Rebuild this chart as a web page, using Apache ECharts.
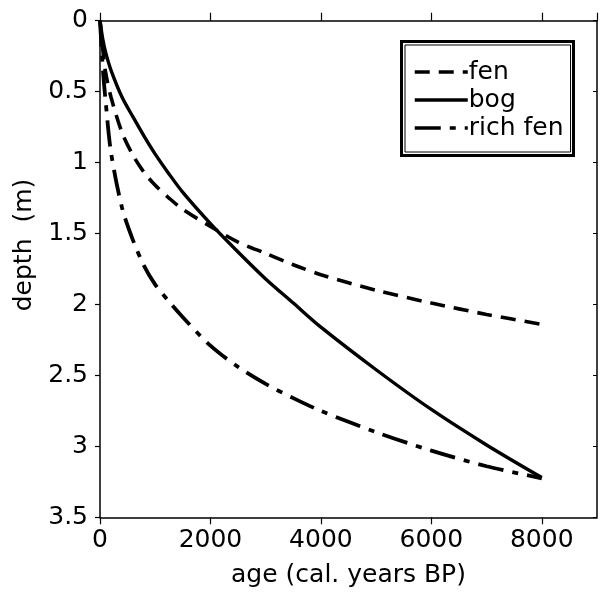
<!DOCTYPE html>
<html>
<head>
<meta charset="utf-8">
<script src="https://cdn.jsdelivr.net/npm/echarts@6/dist/echarts.min.js"></script>
<style>html,body{margin:0;padding:0;background:#fff;}#c{width:600px;height:593px;}</style>
</head>
<body>
<div id="c"></div>
<script>
// ages (cal. years BP)
const ages = [0, 50, 100, 200, 400, 600, 800, 1000, 1250, 1500, 2000, 2500, 3000, 3500, 4000, 5000, 6000, 7000, 8000];
// depth (m) per series
const fen     = [0, 0.20, 0.36, 0.54, 0.79, 0.95, 1.07, 1.16, 1.25, 1.33, 1.45, 1.56, 1.64, 1.72, 1.79, 1.90, 1.99, 2.07, 2.14];
const bog     = [0, 0.13, 0.22, 0.35, 0.54, 0.68, 0.815, 0.94, 1.08, 1.21, 1.43, 1.63, 1.82, 1.99, 2.16, 2.46, 2.74, 2.99, 3.22];
const richFen = [0, 0.33, 0.56, 0.93, 1.32, 1.55, 1.73, 1.86, 1.98, 2.09, 2.29, 2.44, 2.56, 2.66, 2.75, 2.90, 3.03, 3.14, 3.225];
const seriesNames = ['fen', 'bog', 'rich fen'];
const xTicks = [0, 2000, 4000, 6000, 8000];
const yTicks = ['0', '0.5', '1', '1.5', '2', '2.5', '3', '3.5'];

const pair = arr => ages.map((a, i) => [a, arr[i]]);
const FONT = 'DejaVu Sans';

const chart = echarts.init(document.getElementById('c'), null, {renderer: 'canvas'});
const axisLine = {show: true, onZero: false, lineStyle: {color: '#000', width: 1.5}};
chart.setOption({
  animation: false,
  backgroundColor: '#fff',
  grid: {left: 100, right: 3, top: 20.7, bottom: 75.7, containLabel: false, outerBoundsMode: 'none'},
  xAxis: [{
    type: 'value', position: 'bottom', min: 0, max: 9000, interval: 2000,
    axisLine: axisLine,
    axisTick: {show: true, inside: false, length: 7, lineStyle: {color: '#000', width: 1.2}},
    splitLine: {show: false},
    axisLabel: {show: true, color: '#000', fontFamily: FONT, fontSize: 25, margin: 11, showMaxLabel: false,
      formatter: v => xTicks.indexOf(v) >= 0 ? String(v) : ''},
    name: 'age (cal. years BP)', nameLocation: 'middle', nameGap: 46,
    nameTextStyle: {color: '#000', fontFamily: FONT, fontSize: 25}
  }, {
    type: 'value', position: 'top', min: 0, max: 9000, interval: 2000,
    axisLine: axisLine,
    axisTick: {show: true, inside: false, length: 8, lineStyle: {color: '#000', width: 1.2}},
    splitLine: {show: false}, axisLabel: {show: false}
  }],
  yAxis: [{
    type: 'value', position: 'left', inverse: true, min: 0, max: 3.5, interval: 0.5,
    axisLine: axisLine,
    axisTick: {show: true, inside: false, length: 5, lineStyle: {color: '#000', width: 1.2}},
    splitLine: {show: false},
    axisLabel: {show: true, color: '#000', fontFamily: FONT, fontSize: 25, margin: 12,
      formatter: v => yTicks[Math.round(v / 0.5)] || ''},
    name: 'depth  (m)', nameLocation: 'middle', nameGap: 60, nameRotate: 90,
    nameTextStyle: {color: '#000', fontFamily: FONT, fontSize: 25, padding: [0, 0, 0, 48]}
  }, {
    type: 'value', position: 'right', inverse: true, min: 0, max: 3.5, interval: 0.5,
    axisLine: axisLine,
    axisTick: {show: true, inside: true, length: 4, lineStyle: {color: '#000', width: 1}},
    splitLine: {show: false}, axisLabel: {show: false}
  }],
  legend: {
    show: true, orient: 'vertical', left: 405, top: 45,
    padding: [13, 7, 10, 8], itemGap: 0, itemWidth: 53, itemHeight: 10,
    borderColor: '#000', borderWidth: 1, backgroundColor: '#fff',
    data: seriesNames,
    itemStyle: {opacity: 0, borderWidth: 0},
    lineStyle: {width: 3.5},
    textStyle: {color: '#000', fontFamily: FONT, fontSize: 25, lineHeight: 28, padding: [0, 0, 0, -4]}
  },
  graphic: [{
    type: 'rect', shape: {x: 401.5, y: 41.5, width: 172, height: 114}, z: 100, silent: true,
    style: {fill: 'none', stroke: '#000', lineWidth: 3}
  }],
  series: [
    {name: seriesNames[0], type: 'line', data: pair(fen), smooth: 0.3, symbol: 'none', showSymbol: false,
      color: '#000', lineStyle: {color: '#000', width: 3.6, type: [15, 9]}},
    {name: seriesNames[1], type: 'line', data: pair(bog), smooth: 0.3, symbol: 'none', showSymbol: false,
      color: '#000', lineStyle: {color: '#000', width: 3.4, type: 'solid'}},
    {name: seriesNames[2], type: 'line', data: pair(richFen), smooth: 0.3, symbol: 'none', showSymbol: false,
      color: '#000', lineStyle: {color: '#000', width: 3.8, type: [26, 9, 6, 9]}}
  ]
});
</script>
</body>
</html>
